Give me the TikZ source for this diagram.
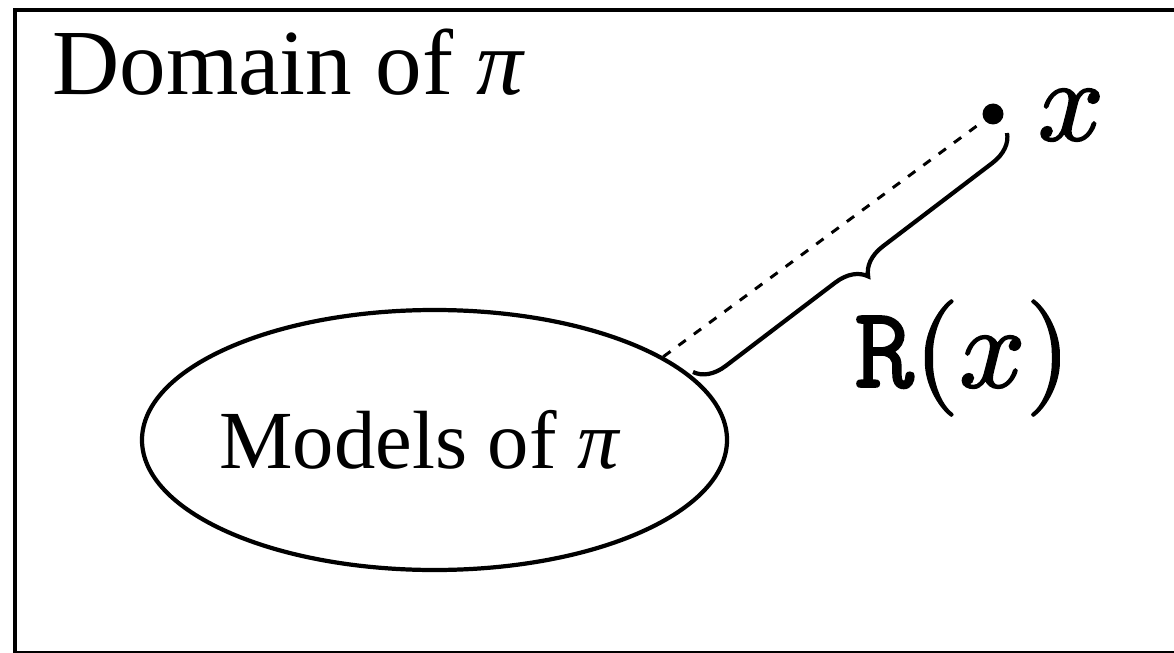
\documentclass[tikz,border=0pt]{standalone}
\usepackage{fontspec}
\setmainfont{Liberation Serif}
\newfontfamily\lmmath[FakeBold=1.6]{Latin Modern Math}
\newfontfamily\ttheavy[FakeBold=1.6]{Latin Modern Mono}
\usetikzlibrary{shapes.geometric,decorations.pathreplacing}

\begin{document}
\begin{tikzpicture}[
    outline/.style={line width=2.4pt},
    labeltext/.style={inner sep=0pt, anchor=base},
  ]
  \useasboundingbox (0,0) rectangle (23.48,13.04);
  % Frame of the whole domain (its right side runs off the page).
  \draw[line width=2.8pt] (0.3,-0.03) rectangle (24,12.84);
  \node[labeltext, anchor=base west, font=\fontsize{53}{60}\selectfont]
    (domain) at (1.04,11.14) {Domain of \textit{π}};
  % The set of models, drawn as an ellipse.
  \node[ellipse, draw, outline, inner sep=0pt,
        minimum width=11.7cm, minimum height=5.2cm] (models) at (8.69,4.24) {};
  \node[labeltext, font=\fontsize{47}{54}\selectfont]
    (modelslabel) at (8.4,3.68) {Models of \textit{π}};
  % The point x outside the models.
  \node[circle, fill, inner sep=0pt, minimum size=0.42cm] (pt) at (19.86,10.76) {};
  \node[labeltext, font=\fontsize{66}{76}\lmmath] (xlabel) at (21.42,10.24) {𝑥};
  % Distance from the models to x.
  \draw[line width=1.7pt, dash pattern=on 0.18cm off 0.2cm] (models.20) -- (pt);
  \coordinate (bstart) at (13.86,5.6);
  \coordinate (bend) at (20.14,10.38);
  \draw[outline, decorate, decoration={brace, amplitude=0.6cm, mirror}]
    (bstart) -- (bend);
  \node[labeltext, font=\fontsize{66}{76}\lmmath] (rlabel) at (19.25,5.3)
    {{\ttheavy R}(𝑥)};
\end{tikzpicture}
\end{document}
